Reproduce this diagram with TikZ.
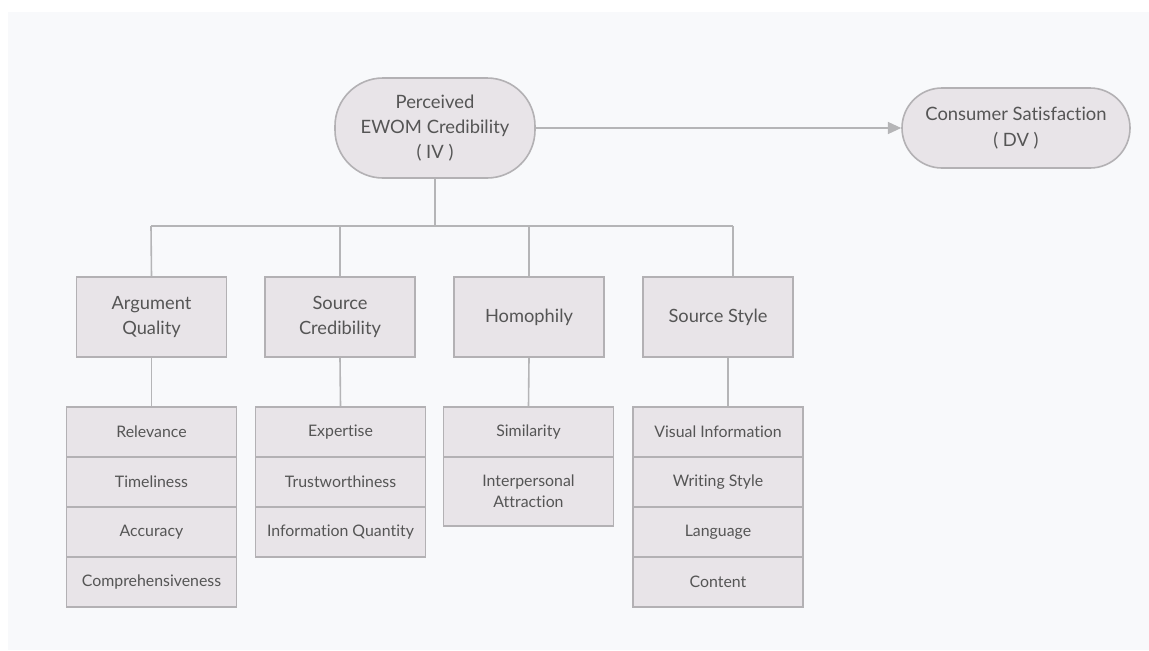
\documentclass[tikz,border=0pt]{standalone}
\usepackage{fontspec}
\setmainfont{Lato}[Ligatures={NoCommon}]
\usetikzlibrary{arrows.meta}
\definecolor{bgc}{HTML}{F8F9FB}
\definecolor{boxfill}{HTML}{E8E4E8}
\definecolor{boxline}{HTML}{B3B1B4}
\definecolor{txt}{HTML}{555555}
\definecolor{wire}{HTML}{B5B5B7}
\tikzset{
  base/.style={draw=boxline, fill=boxfill, line width=1.2pt, text=txt, align=center, inner sep=0pt},
  oval/.style={base, rounded corners=#1},
  mainbox/.style={base, minimum width=112.5pt, minimum height=60pt, font=\fontsize{13.7}{18.7}\selectfont},
  item/.style={base, minimum width=127.5pt, minimum height=37.5pt, font=\fontsize{11.9}{16}\selectfont},
  wireline/.style={draw=wire, line width=1.2pt},
}
\begin{document}
\begin{tikzpicture}[x=0.75pt, y=-0.75pt]
\useasboundingbox (0,0) rectangle (1149,650);
\fill[bgc] (8,12) rectangle (1149,650);

\node[oval=36pt, minimum width=150pt, minimum height=75pt, font=\fontsize{13.8}{19}\selectfont] (iv) at (435,128) {Perceived\\EWOM Credibility\\( IV )};
\node[oval=30pt, minimum width=171pt, minimum height=60pt, font=\fontsize{13.8}{19}\selectfont] (dv) at (1016,128) {Consumer Satisfaction\\( DV )};

\node[mainbox] (aq) at (151.5,317) {Argument\\Quality};
\node[mainbox] (sc) at (340,317) {Source\\Credibility};
\node[mainbox] (ho) at (529,317) {Homophily};
\node[mainbox] (ss) at (718,317) {Source Style};

% Argument Quality items
\node[item] (aq1) at (151.5,432) {Relevance};
\node[item] (aq2) at (151.5,482) {Timeliness};
\node[item] (aq3) at (151.5,532) {Accuracy};
\node[item] (aq4) at (151.5,582) {Comprehensiveness};
% Source Credibility items
\node[item] (sc1) at (340.5,432) {Expertise};
\node[item] (sc2) at (340.5,482) {Trustworthiness};
\node[item] (sc3) at (340.5,532) {Information Quantity};
% Homophily items
\node[item] (ho1) at (528.5,432) {Similarity};
\node[item, minimum height=51.75pt] (ho2) at (528.5,491.5) {Interpersonal\\Attraction};
% Source Style items
\node[item] (ss1) at (718,432) {Visual Information};
\node[item] (ss2) at (718,482) {Writing Style};
\node[item] (ss3) at (718,532) {Language};
\node[item] (ss4) at (718,582) {Content};

% connectors
\draw[wireline, -{Triangle[length=10pt, width=9pt]}] (iv.east) -- (dv.west);
\coordinate (busL) at (151,226);
\coordinate (busR) at (733,226);
\draw[wireline] (iv.south) -- (iv.south |- busL);
\draw[wireline] (busL) -- (busR);
\draw[wireline] (busL) -- (aq.north);
\draw[wireline] (sc.north |- busL) -- (sc.north);
\draw[wireline] (ho.north |- busL) -- (ho.north);
\draw[wireline] (busR) -- (busR |- ss.north);
\draw[wireline] (aq.south) -- (aq1.north);
\draw[wireline] (sc.south) -- (sc1.north);
\draw[wireline] (ho.south) -- (ho1.north);
\draw[wireline] ([xshift=7.5pt]ss.south) -- ([xshift=7.5pt]ss1.north);
\end{tikzpicture}
\end{document}
